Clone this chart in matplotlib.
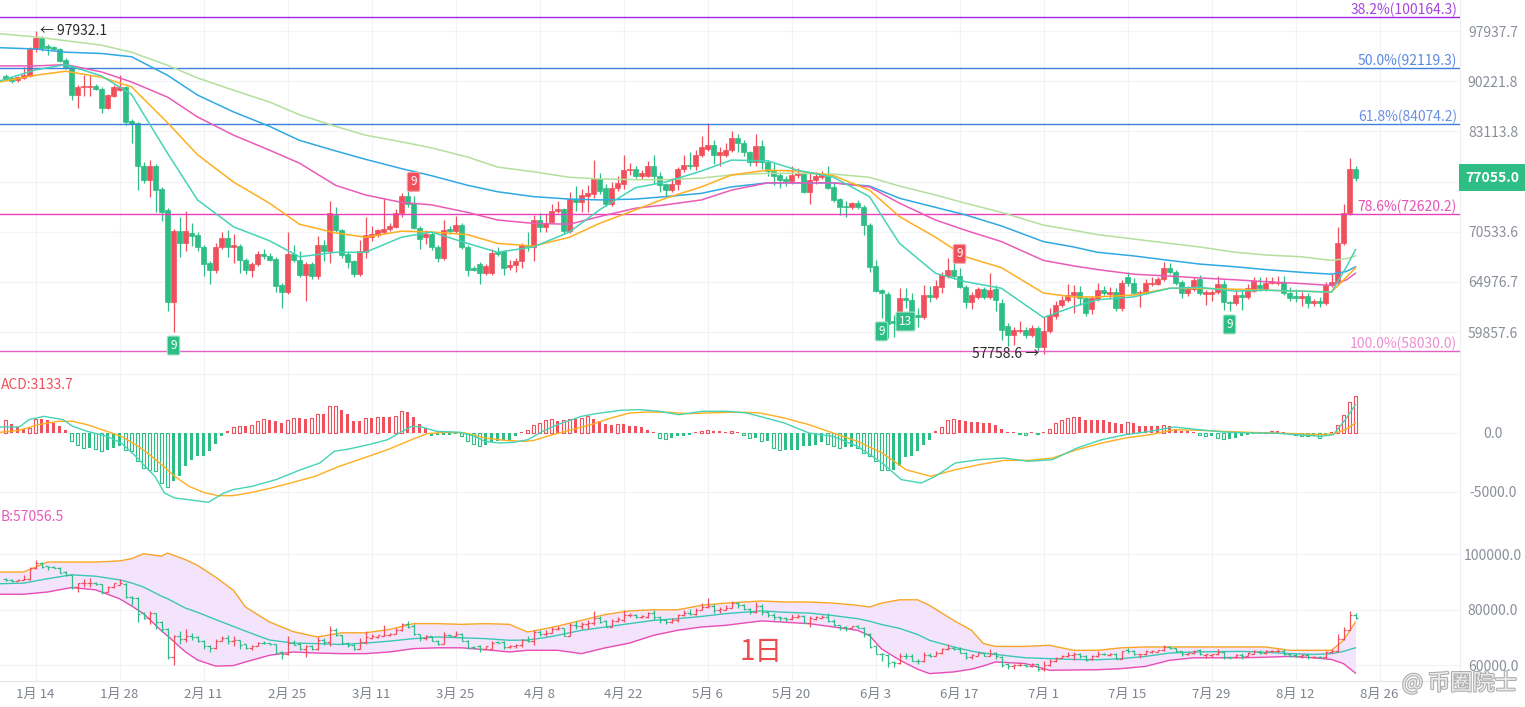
import numpy as np
import matplotlib
matplotlib.use('Agg')
import matplotlib.pyplot as plt
import matplotlib.patheffects as pe
from matplotlib.ticker import NullLocator, NullFormatter

plt.rcParams['font.family'] = ['Liberation Sans Narrow', 'Noto Sans CJK SC', 'DejaVu Sans']

W, H = 1525, 707

RED = '#f0505c'
GREEN = '#2ebd85'
TEAL = '#45d3b6'
ORANGE = '#ffae1f'
PINK = '#e95bb7'
BLUE = '#2fa8e3'
LGREEN = '#b4df9c'
GRAY = '#8a8f99'

# daily candles, day-of-year (0 = Jan 1) of the first one
FIRST_DAY = 8

OPEN = [
    91000, 90700, 90400, 90700, 91000, 95100, 96800, 95500, 95400, 95100,
    93400, 92400, 88200, 89400, 89400, 89500, 89100, 86400, 88100, 89000,
    89300, 84500, 84200, 78600, 76800, 78600, 75600, 73100, 62900, 70600,
    69300, 70400, 70100, 68800, 67000, 66200, 68800, 69800, 68800, 68900,
    67400, 66300, 66900, 68000, 67800, 67500, 64600, 63900, 68000, 67400,
    65700, 66900, 65600, 69000, 68400, 72500, 70700, 68000, 67200, 65800,
    68200, 69900, 70200, 70500, 70800, 71100, 72700, 74800, 73900, 71000,
    69900, 70300, 68800, 67600, 70900, 70600, 71300, 68800, 66500, 66900,
    65900, 65900, 68200, 68300, 66600, 66800, 67200, 68900, 68800, 71900,
    71100, 71700, 73000, 73200, 70600, 74400, 74000, 74800, 75000, 76900,
    75800, 73800, 75800, 76200, 78000, 78200, 77300, 77300, 78600, 77300,
    76200, 75500, 76200, 78200, 78700, 78500, 80000, 80800, 81300, 80000,
    80000, 80600, 82200, 81600, 80300, 79000, 81100, 79000, 77900, 77400,
    76900, 76600, 77400, 77600, 75300, 76700, 77100, 77300, 75900, 74400,
    73600, 73400, 73900, 73500, 71300, 66700, 64100, 63700, 61000, 60700,
    63300, 63100, 61600, 61400, 63600, 63400, 64400, 65600, 66300, 65600,
    64400, 62900, 63400, 64200, 63400, 64200, 62800, 60500, 59600, 60000,
    60100, 59600, 60300, 58400, 60000, 61500, 62600, 63100, 63600, 63900,
    63300, 62200, 63200, 64100, 63700, 63900, 62300, 65500, 64900, 63800,
    63900, 64800, 64800, 65300, 66500, 66000, 65000, 63800, 64200, 65300,
    63700, 63700, 63900, 64800, 62900, 62800, 63600, 63400, 64000, 64700,
    64200, 64900, 64900, 65000, 63800, 63500, 63300, 63500, 62800, 63000,
    62800, 64600, 64900, 69300, 72700, 78200,
]
HIGH = [
    91300, 90900, 91000, 92300, 95400, 97932.1, 97100, 95800, 95600, 95300,
    93700, 92600, 89600, 91100, 91200, 89800, 89300, 88400, 89700, 91100,
    89500, 84800, 84400, 79000, 79300, 78800, 75900, 73300, 70800, 72200,
    73000, 71500, 70500, 69000, 67200, 69200, 70500, 70700, 70300, 69100,
    67600, 67100, 68300, 68600, 68100, 67700, 64900, 70500, 69000, 68300,
    67100, 67100, 70000, 69600, 74200, 73400, 70900, 68200, 67400, 69600,
    72300, 71200, 70900, 74500, 71500, 73200, 75100, 76000, 74800, 71200,
    70700, 70500, 69000, 71900, 71200, 72400, 71500, 69000, 66700, 67100,
    66900, 68600, 68800, 68500, 67300, 67600, 69200, 70500, 72500, 72700,
    72600, 73800, 74200, 73300, 75300, 76000, 75600, 76100, 79300, 77700,
    76200, 76500, 77300, 80000, 78900, 78500, 78000, 79200, 80000, 77800,
    76400, 77000, 78400, 79900, 80300, 80600, 82500, 84200, 81900, 81000,
    81500, 83100, 82700, 81900, 80500, 82700, 81900, 79300, 78900, 77700,
    77200, 78500, 78300, 77900, 77600, 77800, 77900, 78600, 76400, 74500,
    74200, 74100, 74300, 73700, 71500, 67300, 64200, 63900, 61600, 64300,
    64300, 63800, 62300, 64700, 64500, 65200, 66000, 67600, 67000, 66500,
    64600, 63900, 64400, 64400, 65900, 64600, 63200, 60800, 60400, 61000,
    60400, 60600, 60500, 61400, 62300, 63000, 63500, 64800, 64600, 64500,
    63500, 63500, 64900, 64500, 64400, 64300, 65200, 66000, 65400, 64100,
    65300, 65500, 65500, 67100, 67000, 66200, 65200, 64500, 65500, 65700,
    64100, 64100, 65600, 65200, 63000, 64100, 64200, 64800, 65500, 65500,
    65500, 65500, 65600, 65600, 64400, 64200, 63900, 63800, 63200, 63400,
    65000, 65800, 71100, 73800, 79600, 78600,
]
LOW = [
    90300, 90000, 90100, 90500, 90800, 94600, 94800, 94200, 94900, 93100,
    92000, 87500, 86400, 88100, 88100, 88900, 85700, 86200, 87900, 88800,
    84000, 81500, 75500, 76400, 74600, 72900, 71800, 62000, 59900, 67700,
    68400, 68900, 68300, 65600, 64800, 65900, 68600, 67700, 67000, 65900,
    65800, 65500, 66700, 67500, 67200, 63900, 62300, 63700, 67100, 65500,
    63000, 65300, 65300, 67200, 67000, 70500, 67600, 66500, 65500, 65600,
    67600, 69500, 69900, 70300, 70600, 71000, 72300, 73500, 70800, 68600,
    69100, 68500, 67100, 67400, 70300, 70400, 68600, 65600, 66100, 64800,
    65700, 65700, 67800, 65700, 66300, 66000, 66500, 68300, 67200, 70500,
    70500, 71500, 72700, 70300, 70400, 73000, 72800, 72900, 74500, 75000,
    73600, 73600, 75400, 75600, 77400, 77000, 76900, 77100, 76200, 75300,
    74800, 75300, 75500, 77800, 78100, 78000, 79700, 80500, 78800, 78600,
    79700, 80400, 80400, 79800, 78500, 78600, 78200, 77200, 76100, 75800,
    76000, 76300, 77000, 75100, 73800, 76300, 76900, 75600, 74000, 72500,
    72200, 73200, 73200, 70100, 66000, 63900, 61300, 59300, 59400, 60500,
    62300, 61300, 60400, 61200, 62900, 63200, 63800, 65400, 65300, 64300,
    62300, 62200, 63200, 63200, 63200, 62000, 59100, 58500, 58600, 59800,
    59300, 59400, 58000, 57758.6, 59800, 61200, 62400, 62900, 61800, 62600,
    61500, 61700, 63000, 63600, 63300, 62000, 62000, 64500, 63600, 62400,
    63700, 64500, 64600, 65100, 65800, 64700, 63300, 63500, 64000, 63600,
    62600, 63000, 63700, 62100, 62000, 62600, 62100, 63200, 63900, 64000,
    64000, 64800, 64700, 63600, 63000, 62900, 62500, 62300, 62500, 62400,
    62600, 64400, 64700, 69000, 72500, 76600,
]
CLOSE = [
    90500, 90200, 90800, 91100, 95100, 96800, 95300, 95300, 95100, 93300,
    92300, 88200, 89400, 89500, 89500, 89100, 86400, 88200, 89400, 89400,
    84400, 84100, 78500, 76800, 78600, 75500, 72900, 62900, 70600, 69300,
    70600, 70000, 68800, 66900, 66200, 68800, 69800, 68800, 69000, 67300,
    66300, 66900, 68000, 67800, 67400, 64500, 63900, 68000, 67300, 65700,
    66900, 65600, 69000, 68400, 72700, 70700, 67900, 67100, 65800, 68300,
    70100, 70300, 70700, 70900, 71200, 72700, 74800, 73800, 71000, 69700,
    70300, 68800, 67600, 70700, 70600, 71300, 68800, 66300, 66300, 65900,
    66700, 68100, 68000, 66500, 66800, 67200, 69000, 68800, 71900, 71100,
    71600, 73000, 73200, 70600, 74400, 74000, 74900, 75200, 76900, 75400,
    73800, 75800, 76400, 78000, 78200, 77300, 77600, 78600, 77300, 76100,
    75500, 76200, 78200, 78700, 78500, 80000, 81000, 81300, 80000, 80300,
    80600, 82200, 81600, 80300, 79000, 81100, 79000, 77900, 77300, 76800,
    76600, 77400, 77700, 75300, 76800, 77300, 77400, 75800, 74300, 73500,
    73400, 73900, 73400, 71300, 66600, 64000, 63800, 60700, 60800, 63300,
    63100, 61500, 61400, 63600, 63400, 64500, 65700, 66300, 65600, 64400,
    62900, 63600, 64200, 63400, 64100, 63100, 60100, 59600, 60100, 60100,
    59600, 60300, 58400, 60000, 61600, 62600, 63100, 63600, 63900, 63300,
    61800, 63300, 64100, 63800, 63900, 62300, 64900, 64900, 63800, 63900,
    64900, 64900, 65300, 66500, 66000, 64900, 63800, 64200, 65200, 63800,
    63900, 63900, 64800, 62900, 62800, 63600, 63400, 64300, 65100, 64300,
    64900, 65100, 65000, 63800, 63300, 63300, 63500, 62800, 63000, 62800,
    64700, 65000, 69300, 72700, 78200, 77055,
]

# moving averages
MA_X = [7, 13, 18, 24, 29, 35, 40, 46, 52, 57, 63, 68, 74, 79, 85, 90, 96, 102, 107, 113, 118, 124,
        129, 135, 140, 146, 152, 157, 163, 168, 174, 181, 186, 190, 196, 202, 207, 213, 218, 224,
        229, 231.5, 233]
MA_TEAL = [90250, 91900, 92700, 91000, 88300, 80200, 74300, 71100, 69500, 67700, 68200, 68200, 69900,
           70500, 69200, 68200, 68800, 70500, 73100, 75800, 76500, 77900, 79300, 79200, 78000, 77100,
           74700, 69200, 65900, 65000, 64300, 61300, 62400, 63100, 63400, 64300, 64400, 64000, 64100,
           64000, 63900, 66600, 68500]
MA_ORANGE = [90100, 91100, 91700, 90800, 89400, 84300, 80000, 76500, 73900, 71400, 70400, 69900, 70600,
             70500, 70200, 69200, 68900, 69900, 71500, 73100, 74500, 75900, 77400, 78000, 77900, 77300,
             75500, 72300, 69900, 67700, 66500, 63800, 63400, 63400, 63600, 64300, 64300, 64200, 64100,
             64000, 63900, 65500, 66500]
MA_PINK = [92500, 92500, 92700, 91600, 90100, 87900, 85100, 82600, 80600, 78900, 76100, 74900, 74000,
           73700, 72800, 71900, 71500, 71400, 72300, 73300, 73700, 74300, 75500, 76400, 76400, 76400,
           75900, 73900, 71900, 70700, 69400, 67300, 66700, 66300, 65800, 65600, 65400, 65200, 65000,
           64800, 64600, 65200, 65900]
MA_BLUE = [95300, 95100, 94600, 94400, 93900, 91100, 88200, 85800, 83800, 81900, 80500, 79400, 78200,
           77300, 76100, 75300, 74700, 74400, 74300, 74400, 74700, 75100, 75900, 76400, 76400, 76400,
           76000, 74500, 73400, 72500, 71200, 69400, 68800, 68200, 67800, 67300, 66900, 66600, 66300,
           66000, 65800, 66100, 66600]
MA_LGREEN = [97500, 97000, 96400, 95700, 94600, 92600, 90700, 88900, 87200, 85400, 83800, 82600, 81700,
             80900, 79700, 78400, 77800, 77100, 76900, 76800, 76800, 77000, 77400, 77600, 77600, 77500,
             77100, 76000, 74900, 73900, 72800, 71300, 70700, 70200, 69700, 69200, 68800, 68200, 67900,
             67700, 67300, 67500, 67800]

FIB_LEVELS = [100164.3, 92119.3, 84074.2, 72620.2, 58030.0]
FIB_NAMES = ['38.2%', '50.0%', '61.8%', '78.6%', '100.0%']
FIB_LINE_COLORS = ['#a324e6', '#3f7edc', '#3f7edc', '#ea3fbb', '#e45fc2']
FIB_TEXT_COLORS = ['#a845de', '#5c88e4', '#6a90e6', '#e452b6', '#ec8ed0']

MAIN_TICKS = [59857.6, 64976.7, 70533.6, 76565.7, 83113.8, 90221.8, 97937.7]
LAST_PRICE = 77055.0

TD_DOWN_DAYS = [36, 154, 158, 212]
TD_DOWN_TEXT = ['9', '9', '13', '9']
TD_UP_DAYS = [76, 167]
TD_UP_TEXT = ['9', '9']

# MACD histogram, one value per candle
MACD_HIST = [
    1130, 790, 510, 340, 420, 1190, 1190, 1130, 850, 620,
    230, -710, -990, -1270, -1270, -1360, -1550, -1410, -1270, -1070,
    -1410, -1550, -2400, -2970, -3110, -3250, -4240, -4580, -4100, -3670,
    -2830, -2320, -1980, -1920, -1550, -900, -230, 140, 510, 620,
    620, 710, 990, 1190, 1130, 990, 850, 1130, 1270, 1270,
    1190, 1270, 1640, 1640, 2260, 2320, 1920, 1640, 990, 990,
    1270, 1270, 1360, 1360, 1360, 1470, 1840, 1750, 1360, 790,
    420, -280, -170, -170, -140, -60, -280, -710, -900, -1070,
    -990, -790, -710, -570, -570, -230, 90, 230, 710, 850,
    1130, 1190, 990, 1130, 1190, 1190, 1270, 1410, 1190, 990,
    790, 710, 790, 790, 620, 570, 510, 280, 110, -420,
    -510, -420, -280, -230, -170, 90, 200, 280, 140, 140,
    110, 170, 60, -140, -420, -420, -710, -710, -1270, -1410,
    -1410, -1410, -1410, -1130, -1070, -990, -790, -900, -1070, -1270,
    -1190, -1190, -1270, -1690, -1920, -2400, -3110, -3160, -3110, -2770,
    -2030, -1920, -1550, -990, -570, 140, 510, 1070, 1190, 1070,
    990, 900, 900, 850, 850, 710, 340, 110, 60, -85,
    -140, 60, -85, 60, 340, 850, 1130, 1270, 1360, 1360,
    1130, 1130, 1070, 1070, 900, 850, 790, 900, 850, 620,
    620, 620, 620, 710, 570, 340, 140, 140, 60, -140,
    -230, -230, -420, -510, -510, -420, -280, -170, -60, -60,
    110, 140, 140, 110, -20, -170, -230, -280, -280, -400,
    -230, 110, 710, 1550, 2600, 3133.7,
]
DIF_X = [7.1, 10.3, 11.9, 14.4, 17.6, 19.2, 21.6, 24.9, 27.3, 29.7, 31.3, 32.9, 34.5, 36.2, 39.4, 41.8,
         44.2, 45.9, 49.1, 53.1, 57.2, 60.4, 62.8, 65.2, 68.5, 71.7, 74.1, 75.7, 77.4, 79.8, 83.8, 86.2,
         87.9, 90.3, 92.7, 95.1, 97.5, 100, 104, 106.4, 110.5, 113.7, 117, 120.2, 124.2, 128.2, 131.5,
         133.7, 137.8, 141.9, 145.9, 150, 154.1, 157.3, 160.6, 163, 166.3, 170.3, 174.4, 178.5, 182.5,
         186.6, 190.7, 194.7, 198.8, 202.8, 206.9, 211, 215, 219.1, 223.2, 227.2, 229.3, 231.3, 233]
DIF = [510, 510, 1130, 1410, 1130, 565, 140, -280, -850, -1980, -2830, -3670, -5085, -5510, -5710, -5880,
       -5140, -4800, -4520, -3950, -3110, -2540, -1550, -1360, -990, -565, 140, 565, 510, 140, 60, -280,
       -710, -850, -790, -565, 140, 710, 1410, 1640, 1920, 1980, 1840, 1550, 1840, 1840, 1700,
       1410, 850, 0, -280, -1130, -2540, -3950, -4240, -3670, -2540, -2260, -2120, -2400, -2260,
       -1270, -565, -140, 140, 510, 280, 85, 0, 0, -140, -280, -140, 1130, 2400]
DEA_X = [7.1, 10.3, 13.5, 16.8, 19.2, 21.6, 24.9, 27.3, 29.7, 31.3, 33.7, 36.2, 38.6, 41, 43.4, 45.9,
         49.1, 52.3, 55.5, 59.6, 63.6, 67.7, 71.7, 75.7, 78.2, 81.4, 84.6, 87.9, 91.1, 94.3, 95.9, 99.2,
         102.4, 105.6, 108.9, 112.1, 115.3, 118.5, 121.8, 125, 128.2, 131.5, 133.7, 137.8, 141.9, 145.9,
         150, 154.1, 158.1, 162.2, 166.3, 170.3, 174.4, 178.5, 182.5, 186.6, 190.7, 194.7, 198.8, 202.8,
         206.9, 211, 215, 219.1, 223.2, 227.2, 229.3, 231.3, 233]
DEA = [60, 230, 710, 990, 990, 710, 140, -280, -990, -1550, -2540, -3670, -4520, -5030, -5310, -5310,
       -5030, -4660, -4240, -3670, -2830, -2120, -1410, -565, -60, 60, 0, -420, -620, -710, -650, -140,
       280, 710, 1270, 1700, 1780, 1750, 1640, 1700, 1750, 1750, 1700, 1270, 710, 0,
       -710, -1690, -3110, -3670, -3110, -2680, -2320, -2320, -2120, -1410, -850, -420, -140, 280,
       230, 140, 60, 0, -60, -140, -60, 280, 850]

# bollinger bands
BOLL_X = [7, 11, 15, 19, 23, 27, 29, 31, 34, 35, 38, 40, 43, 46, 48, 52, 56, 60, 64, 68, 72, 76, 80, 84,
          88, 92, 95, 98, 100, 104, 108, 112, 116, 120, 124, 128, 134, 138, 142, 146, 150, 152, 154, 157,
          160, 162, 166, 169, 171, 173, 178, 182, 186, 190, 194, 198, 202, 206, 210, 214, 218, 222, 226,
          229, 231, 233]
BOLL_UP = [93500, 93500, 97100, 97100, 97100, 97500, 98300, 100100, 99200, 100350, 97950, 95900, 91700,
           86900, 80900, 75500, 72000, 70100, 71600, 71600, 72800, 74900, 74900, 74650, 74900, 74650,
           71900, 73100, 74000, 76100, 78200, 79500, 79900, 79900, 81500, 82300, 83060, 82700, 82700,
           82300, 81500, 80900, 82300, 83500, 83500, 81500, 76100, 72500, 67700, 66700, 66700, 67100,
           65300, 65300, 66200, 66500, 66500, 66500, 66500, 66500, 66500, 65300, 65300, 65300, 68900,
           75500]
BOLL_MID = [89300, 89500, 91100, 92500, 92000, 90700, 89600, 88100, 84800, 83900, 80500, 79000, 76400,
            73900, 72200, 69000, 67900, 67700, 67400, 67900, 68600, 69500, 70100, 69800, 69500, 68900,
            69000, 69900, 70700, 72500, 73700, 74900, 76100, 76700, 77500, 78500, 79500, 79000, 78700,
            77800, 76700, 75800, 74600, 73200, 71000, 68900, 66500, 65000, 64300, 63800, 62600, 62300,
            62000, 61900, 62300, 63100, 64300, 64700, 64800, 64900, 64600, 64100, 63800, 64100, 64900,
            66200]
BOLL_LOW = [85500, 85500, 86300, 87900, 87100, 83900, 81300, 78500, 72300, 70500, 64700, 61800, 59600,
            59800, 61100, 63500, 64700, 64300, 64100, 64100, 64700, 65900, 66200, 66200, 65500, 64700,
            65300, 65300, 65300, 64100, 66200, 67900, 70700, 72500, 73700, 74300, 75900, 75400, 74900,
            73700, 72500, 70600, 65800, 61800, 58500, 56900, 57500, 58500, 59700, 61100, 60500, 58100,
            58200, 58300, 58700, 59500, 61700, 62600, 62600, 62600, 62800, 63100, 62600, 62000, 60500,
            57056.5]

DATE_TICKS = [13, 27, 41, 55, 69, 83, 97, 111, 125, 139, 153, 167, 181, 195, 209, 223, 237]
DATE_LABELS = ['1月 14', '1月 28', '2月 11', '2月 25', '3月 11', '3月 25', '4月 8', '4月 22', '5月 6',
               '5月 20', '6月 3', '6月 17', '7月 1', '7月 15', '7月 29', '8月 12', '8月 26']


def do_plot():
    o = np.array(OPEN, float)
    h = np.array(HIGH, float)
    lo = np.array(LOW, float)
    c = np.array(CLOSE, float)
    days = np.arange(FIRST_DAY, FIRST_DAY + len(o))
    up = c >= o
    cols = np.where(up, RED, GREEN)

    fig = plt.figure(figsize=(W / 100, H / 100), dpi=100)
    fig.patch.set_facecolor('white')
    plot_w = 1460 / W

    def panel(top, bottom, **kw):
        return fig.add_axes([0, 1 - bottom / H, plot_w, (bottom - top) / H], **kw)

    ax3 = panel(505, 681)
    ax1 = panel(0, 370, sharex=ax3)
    ax2 = panel(370, 505, sharex=ax3)

    for ax in (ax1, ax2, ax3):
        for s in ax.spines.values():
            s.set_visible(False)
        ax.spines['right'].set_visible(True)
        ax.spines['right'].set_color('#eeeff2')
        ax.set_facecolor('white')
        ax.yaxis.tick_right()
        ax.grid(True, color='#f2f3f6', lw=0.8)
        ax.set_axisbelow(True)
        ax.tick_params(axis='both', length=0, labelsize=10, labelcolor=GRAY)
        ax.tick_params(axis='y', pad=23.8)
    ax3.spines['bottom'].set_visible(True)
    ax3.spines['bottom'].set_color('#e4e5e9')

    ax3.set_xlim(13 - 35.5 / 6, 13 + (1460 - 35.5) / 6)
    ax3.set_xticks(DATE_TICKS)
    ax3.set_xticklabels(DATE_LABELS)
    ax3.tick_params(axis='x', pad=5, labelsize=9.5, labelcolor='#7d828c')
    ax1.tick_params(axis='x', labelbottom=False)
    ax2.tick_params(axis='x', labelbottom=False)

    # ---- main panel: candles, averages, fibonacci
    ax1.set_yscale('log')
    ax1.set_ylim(56258, 103031)
    ax1.vlines(days, lo, h, colors=cols, lw=0.9, zorder=2)
    ax1.bar(days, np.abs(c - o), bottom=np.minimum(o, c), width=0.7, color=cols,
            edgecolor=cols, linewidth=0.5, zorder=3)
    for vals, col in [(MA_LGREEN, LGREEN), (MA_BLUE, BLUE), (MA_PINK, PINK),
                      (MA_ORANGE, ORANGE), (MA_TEAL, TEAL)]:
        ax1.plot(MA_X, vals, color=col, lw=1.1, zorder=4)
    for lvl, name, lc, tc in zip(FIB_LEVELS, FIB_NAMES, FIB_LINE_COLORS, FIB_TEXT_COLORS):
        ax1.axhline(lvl, color=lc, lw=1.0, zorder=3)
        ax1.text(0.998, lvl, '%s(%.1f)' % (name, lvl), transform=ax1.get_yaxis_transform(),
                 ha='right', va='bottom', fontsize=10, color=tc)
    ax1.set_yticks(MAIN_TICKS)
    ax1.set_yticklabels(['' if abs(t - 76565.7) < 1 else '%.1f' % t for t in MAIN_TICKS])
    ax1.yaxis.set_minor_locator(NullLocator())
    ax1.yaxis.set_minor_formatter(NullFormatter())
    for lab in ax1.get_yticklabels():
        lab.set_horizontalalignment('center')
    ax1.text(1492 / 1460, LAST_PRICE, '%.1f' % LAST_PRICE, transform=ax1.get_yaxis_transform(),
             ha='center', va='center', fontsize=10, fontweight='bold', color='white', clip_on=False,
             bbox=dict(boxstyle='square,pad=0.45', fc=GREEN, ec='none'), zorder=6)

    ih = int(np.argmax(h))
    il = int(np.argmin(lo))
    ax1.annotate('← %.1f' % h[ih], xy=(days[ih], h[ih]), xytext=(3, 0), textcoords='offset points',
                 ha='left', va='center', fontsize=10, color='#2b2b2b')
    ax1.annotate('%.1f →' % lo[il], xy=(days[il], lo[il]), xytext=(-3, 0), textcoords='offset points',
                 ha='right', va='center', fontsize=10, color='#2b2b2b')

    for d, t in zip(TD_DOWN_DAYS, TD_DOWN_TEXT):
        i = d - FIRST_DAY
        ax1.annotate(t, xy=(d, lo[i]), xytext=(0, -10), textcoords='offset points', ha='center',
                     va='center', fontsize=8.5, color='white', zorder=7,
                     bbox=dict(boxstyle='round,pad=0.25,rounding_size=0.15', fc=GREEN, ec='#9fe2c6', lw=0.8))
    for d, t in zip(TD_UP_DAYS, TD_UP_TEXT):
        i = d - FIRST_DAY
        ax1.annotate(t, xy=(d, h[i]), xytext=(0, 10), textcoords='offset points', ha='center',
                     va='center', fontsize=8.5, color='white', zorder=7,
                     bbox=dict(boxstyle='round,pad=0.25,rounding_size=0.15', fc=RED, ec='#f5a3a9', lw=0.8))

    # ---- MACD panel
    hist = np.array(MACD_HIST, float)
    prev = np.concatenate([[0.0], hist[:-1]])
    growing = np.abs(hist) > np.abs(prev)
    hcols = np.where(hist >= 0, RED, GREEN)
    ax2.set_ylim(-6102, 5339)
    ax2.bar(days[~growing], hist[~growing], width=0.62, color=hcols[~growing], zorder=2)
    ax2.bar(days[growing], hist[growing], width=0.55, facecolor='white',
            edgecolor=hcols[growing], linewidth=0.8, zorder=2)
    ax2.plot(DEA_X, DEA, color=ORANGE, lw=1.0, zorder=3)
    ax2.plot(DIF_X, DIF, color=TEAL, lw=1.0, zorder=3)
    ax2.set_yticks([-5000, 0, 5000])
    ax2.set_yticklabels(['-5000.0', '0.0', ''])
    for lab in ax2.get_yticklabels():
        lab.set_horizontalalignment('center')
    # the left edge of the chart cuts the indicator names; only this part is visible
    fig.text(0.5 / W, 1 - 385 / H, 'ACD:%.1f' % hist[-1], ha='left', va='center', fontsize=10, color=RED)

    # ---- bollinger panel
    ax3.set_ylim(54234, 117664)
    ax3.fill_between(BOLL_X, BOLL_LOW, BOLL_UP, color='#f3e4fc', lw=0, zorder=1)
    ax3.plot(BOLL_X, BOLL_UP, color='#f9a524', lw=1.0, zorder=3)
    ax3.plot(BOLL_X, BOLL_MID, color='#3cc6b6', lw=1.0, zorder=3)
    ax3.plot(BOLL_X, BOLL_LOW, color='#e84db6', lw=1.0, zorder=3)
    ax3.vlines(days, lo, h, colors=cols, lw=0.9, zorder=4)
    ax3.hlines(o, days - 0.45, days, colors=cols, lw=0.9, zorder=4)
    ax3.hlines(c, days, days + 0.45, colors=cols, lw=0.9, zorder=4)
    ax3.set_yticks([60000, 80000, 100000])
    ax3.set_yticklabels(['60000.0', '80000.0', '100000.0'])
    for lab in ax3.get_yticklabels():
        lab.set_horizontalalignment('center')
    fig.text(0.5 / W, 1 - 517 / H, 'B:%.1f' % BOLL_LOW[-1], ha='left', va='center', fontsize=10,
             color='#e65cb8')

    fig.text(761 / W, 1 - 652 / H, '1日', ha='center', va='center', fontsize=20, color='#f04a4e')
    wm = fig.text(1402 / W, 1 - 683 / H, '@ 币圈院士', ha='left', va='center', fontsize=16,
                  color='#f4f4f4', alpha=0.9)
    wm.set_path_effects([pe.withStroke(linewidth=1.6, foreground='#a6a6a6')])

    fig.savefig('out.png', dpi=100, facecolor='white')


if __name__ == '__main__':
    do_plot()
